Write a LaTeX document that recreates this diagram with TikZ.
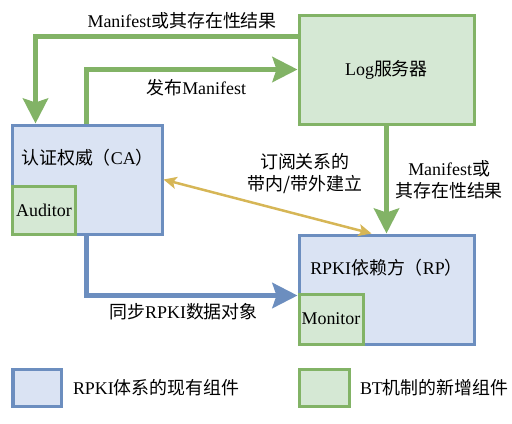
\documentclass[tikz,border=0pt]{standalone}
\usepackage{fontspec}
\setmainfont{Liberation Serif}
\newfontfamily\cjk{Noto Sans CJK SC}
\usetikzlibrary{arrows.meta,positioning}
\definecolor{rpkiblue}{HTML}{6C8EBF}
\definecolor{rpkifill}{HTML}{DAE3F3}
\definecolor{btgreen}{HTML}{82B366}
\definecolor{btfill}{HTML}{D5E8D4}
\definecolor{subgold}{HTML}{D6B656}

\begin{document}
\begin{tikzpicture}[x=1bp,y=-1bp,
    font=\fontsize{18}{22}\selectfont,
    oldbox/.style={draw=rpkiblue,fill=rpkifill,line width=3bp,inner sep=0pt},
    newbox/.style={draw=btgreen,fill=btfill,line width=3bp,inner sep=0pt},
    bigtip/.style={-{Stealth[length=25bp,width=25bp,inset=4bp]}},
    greenflow/.style={draw=btgreen,line width=5bp,bigtip},
    blueflow/.style={draw=rpkiblue,line width=5.5bp,bigtip},
    subline/.style={draw=subgold,line width=2.5bp,{Stealth[length=13bp,width=12bp,inset=3bp]}-{Stealth[length=13bp,width=12bp,inset=3bp]}}]
    \useasboundingbox (0,0) rectangle (512,423);
    \node[newbox,minimum width=175bp,minimum height=109bp] (log) at (386.5,69.5) {Log{\cjk 服务器}};
    \node[oldbox,minimum width=149bp,minimum height=109bp] (ca) at (87.5,179.5) {};
    \node (catext) at ([yshift=-34bp]ca.north) {{\cjk 认证权威（}CA{\cjk ）}};
    \node[newbox,anchor=south west,minimum width=62bp,minimum height=48bp] (auditor) at (ca.south west) {Auditor};
    \node[oldbox,minimum width=175bp,minimum height=109bp] (rp) at (386.5,289.5) {};
    \node (rptext) at ([yshift=-34bp]rp.north) {RPKI{\cjk 依赖方（}RP{\cjk ）}};
    \node[newbox,anchor=south west,minimum width=64bp,minimum height=50bp] (monitor) at (rp.south west) {Monitor};
    \draw[greenflow] ([yshift=-23bp]log.north west) -| node[pos=0.22,above=2bp]{Manifest{\cjk 或其存在性结果}} ([xshift=24bp]ca.north west);
    \draw[greenflow] ([xshift=75bp]ca.north west) |- node[pos=0.76,below=4bp]{{\cjk 发布}Manifest} (log.west);
    \draw[greenflow] (log.south) -- node[right=3bp,align=center]{Manifest{\cjk 或}\\{\cjk 其存在性结果}} (rp.north);
    \draw[blueflow] ([xshift=75bp]ca.south west) |- node[pos=0.73,below=2bp]{{\cjk 同步}RPKI{\cjk 数据对象}} ([yshift=-62bp]rp.north west);
    \draw[subline] (ca.east) -- node[pos=0.68,above=18bp,align=center]{{\cjk 订阅关系的}\\{\cjk 带内/带外建立}} ([xshift=74bp]rp.north west);
    \node[oldbox,minimum width=48bp,minimum height=37bp] (legold) at (37,387.5) {};
    \node[right=7bp of legold] (legoldtext) {RPKI{\cjk 体系的现有组件}};
    \node[newbox,minimum width=50bp,minimum height=37bp] (legnew) at (324,387.5) {};
    \node[right=6bp of legnew] (legnewtext) {BT{\cjk 机制的新增组件}};
\end{tikzpicture}
\end{document}
